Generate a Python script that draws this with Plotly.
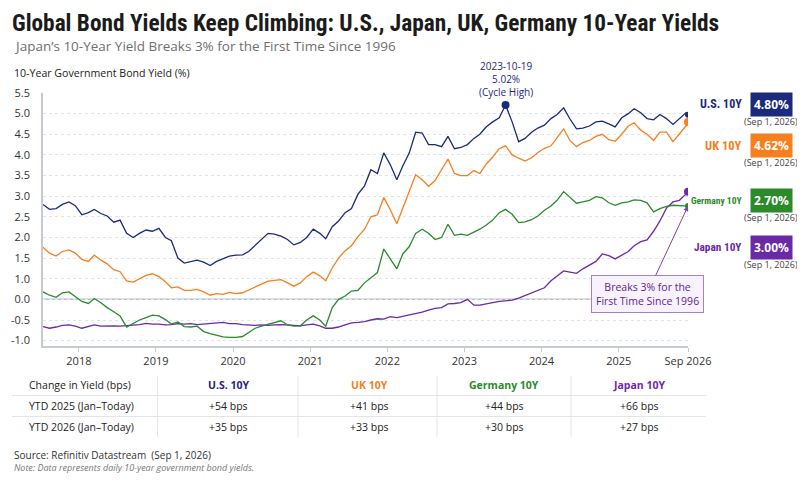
import pandas as pd
import plotly.graph_objects as go

# monthly readings (mid-month), Jul 2017 .. Nov 2025, plus the final observation
dates = list(pd.date_range("2017-07-01", "2025-11-01", freq="MS") + pd.Timedelta(days=14))
dates.append(pd.Timestamp("2025-11-25"))

us_10y = [
    2.80, 2.68, 2.70, 2.80, 2.86, 2.77,
    2.55, 2.60, 2.68, 2.58, 2.52, 2.37, 2.42, 2.10, 2.00, 2.10, 2.18, 2.15,
    2.22, 2.00, 1.92, 1.50, 1.38, 1.42, 1.45, 1.40, 1.32, 1.42, 1.48, 1.55,
    1.57, 1.58, 1.66, 1.80, 1.94, 2.10, 2.08, 2.03, 1.95, 1.82, 1.88, 2.00,
    2.20, 2.10, 1.97, 2.26, 2.40, 2.60, 2.70, 3.05, 3.25, 3.64, 3.55, 4.05,
    3.76, 3.40, 3.73, 4.05, 4.55, 4.53, 4.25, 4.25, 4.20, 4.45, 4.15, 4.18,
    4.25, 4.40, 4.50, 4.68, 4.80, 4.90, 5.21, 4.80, 4.32, 4.40, 4.55, 4.65,
    4.72, 4.88, 4.98, 5.14, 4.87, 4.63, 4.65, 4.70, 4.80, 4.82, 4.75, 4.68,
    4.90, 5.00, 5.12, 5.02, 4.88, 4.85, 4.98, 4.88, 4.74, 4.88, 5.02, 4.97,
]
uk_10y = [
    1.76, 1.62, 1.55, 1.66, 1.70, 1.62,
    1.47, 1.42, 1.57, 1.45, 1.36, 1.22, 1.17, 0.95, 0.92, 1.00, 1.08, 1.12,
    1.05, 0.93, 0.78, 0.80, 0.72, 0.72, 0.74, 0.68, 0.60, 0.64, 0.62, 0.67,
    0.64, 0.66, 0.73, 0.79, 0.88, 0.94, 0.96, 0.98, 0.90, 0.82, 0.90, 1.05,
    1.16, 1.07, 0.95, 1.26, 1.50, 1.68, 1.80, 2.02, 2.20, 2.50, 2.55, 2.97,
    2.67, 2.33, 2.71, 3.11, 3.52, 3.40, 3.24, 3.38, 3.65, 3.90, 3.55, 3.50,
    3.50, 3.62, 3.55, 3.78, 3.95, 4.15, 4.22, 4.00, 3.92, 3.85, 3.93, 4.06,
    4.16, 4.22, 4.42, 4.63, 4.35, 4.20, 4.30, 4.35, 4.45, 4.50, 4.37, 4.33,
    4.50, 4.70, 4.78, 4.60, 4.50, 4.35, 4.55, 4.55, 4.32, 4.50, 4.70, 4.80,
]
de_10y = [
    0.68, 0.60, 0.55, 0.66, 0.68, 0.57,
    0.45, 0.40, 0.52, 0.42, 0.30, 0.20, 0.10, -0.17, -0.08, 0.00, 0.06, 0.12,
    0.10, 0.01, -0.10, -0.05, -0.16, -0.17, -0.15, -0.28, -0.33, -0.37, -0.41, -0.42,
    -0.42, -0.40, -0.31, -0.20, -0.15, -0.10, -0.06, -0.02, -0.12, -0.15, -0.14, 0.00,
    0.10, 0.00, -0.15, 0.30, 0.50, 0.58, 0.70, 0.72, 0.90, 1.03, 1.15, 1.72,
    1.49, 1.24, 1.60, 1.78, 2.10, 2.20, 2.10, 1.95, 2.00, 2.32, 2.05, 2.08,
    2.05, 2.12, 2.20, 2.30, 2.42, 2.60, 2.68, 2.56, 2.36, 2.38, 2.43, 2.52,
    2.66, 2.76, 2.90, 3.11, 2.98, 2.83, 2.86, 2.90, 2.99, 2.96, 2.84, 2.78,
    2.84, 2.86, 2.91, 2.90, 2.84, 2.62, 2.70, 2.75, 2.78, 2.77, 2.76, 2.76,
]
jp_10y = [
    -0.16, -0.20, -0.17, -0.13, -0.12, -0.15,
    -0.20, -0.15, -0.12, -0.15, -0.14, -0.14, -0.15, -0.14, -0.13, -0.11, -0.08, -0.10,
    -0.10, -0.12, -0.11, -0.09, -0.10, -0.09, -0.11, -0.10, -0.09, -0.08, -0.06, -0.09,
    -0.09, -0.11, -0.12, -0.13, -0.12, -0.13, -0.12, -0.11, -0.12, -0.13, -0.14, -0.12,
    -0.10, -0.14, -0.20, -0.20, -0.17, -0.12, -0.07, -0.06, -0.04, 0.00, 0.03, 0.02,
    0.08, 0.06, 0.09, 0.13, 0.16, 0.19, 0.24, 0.28, 0.30, 0.39, 0.40, 0.42,
    0.50, 0.36, 0.36, 0.40, 0.42, 0.45, 0.47, 0.48, 0.53, 0.59, 0.64, 0.70,
    0.78, 0.95, 1.06, 1.19, 1.16, 1.13, 1.24, 1.33, 1.42, 1.60, 1.56, 1.48,
    1.58, 1.66, 1.80, 1.90, 1.94, 2.15, 2.40, 2.71, 2.86, 2.90, 3.05, 3.11,
]

series_names = ["U.S. 10Y", "UK 10Y", "Germany 10Y", "Japan 10Y"]
series_colors = ["#1b2a7c", "#f77f1d", "#2b8a2b", "#6a2aa6"]
latest_yield = [4.80, 4.62, 2.70, 3.00]
ytd_2025_bps = [54, 41, 44, 66]
ytd_2026_bps = [35, 33, 30, 27]

x_tick_vals = ["2018-01-01", "2019-01-01", "2020-01-01", "2021-01-01", "2022-01-01",
               "2023-01-01", "2024-01-01", "2025-01-01", dates[-1]]
x_tick_text = ["2018", "2019", "2020", "2021", "2022", "2023", "2024", "2025", "Sep 2026"]
y_tick_vals = [5.5, 5.0, 4.5, 4.0, 3.5, 3.0, 2.5, 2.0, 1.5, 1.0, 0.5, 0.0, -0.5]
y_tick_text = ["5.5", "5.0", "4.5", "4.0", "3.5", "3.0", "2.5", "2.0", "1.5", "1.0", "0.0", "-0.5", "-1.0"]

BODY = "Open Sans, Noto Sans, sans-serif"
NARROW = "Liberation Sans Narrow, Roboto Condensed, Arial Narrow, Open Sans, sans-serif"


# page coordinates (the page body adds an 8px offset) -> paper coordinates
def px(x):
    return (x - 43) / 645


def py(y):
    return (346 - y) / 253


all_series = [us_10y, uk_10y, de_10y, jp_10y]

fig = go.Figure()
for i in [3, 2, 1, 0]:
    fig.add_trace(go.Scatter(
        x=dates, y=all_series[i], mode="lines", name=series_names[i],
        line=dict(color=series_colors[i], width=1.3), showlegend=False
    ))
for i, size in zip([3, 2, 1, 0], [8, 6, 8, 6]):
    fig.add_trace(go.Scatter(
        x=[dates[-1]], y=[all_series[i][-1]], mode="markers",
        marker=dict(color=series_colors[i], size=size), showlegend=False
    ))

# cycle high of the U.S. series
peak_idx = us_10y.index(max(us_10y))
fig.add_trace(go.Scatter(
    x=[dates[peak_idx]], y=[us_10y[peak_idx]], mode="markers",
    marker=dict(color=series_colors[0], size=8), showlegend=False
))

# zero line sits on the "0.0" label
zero_pos = y_tick_vals[y_tick_text.index("0.0")]
fig.add_shape(type="line", xref="paper", x0=0, x1=1, yref="y", y0=zero_pos, y1=zero_pos,
              line=dict(color="#b9bfcb", width=1.5), layer="below")

ann = []
ann.append(dict(x=px(11), y=py(8), xref="paper", yref="paper", xanchor="left", yanchor="top",
                text="<b>Global Bond Yields Keep Climbing: U.S., Japan, UK, Germany 10-Year Yields</b>",
                font=dict(family=NARROW, size=23.3, color="#1b1b1b"), borderpad=0, showarrow=False))
ann.append(dict(x=px(12), y=py(46), xref="paper", yref="paper", xanchor="left", yanchor="middle",
                text="Japan’s 10-Year Yield Breaks 3% for the First Time Since 1996",
                font=dict(family=BODY, size=13.5, color="#6f6f6f"), showarrow=False))
ann.append(dict(x=px(12), y=py(73), xref="paper", yref="paper", xanchor="left", yanchor="middle",
                text="10-Year Government Bond Yield (%)",
                font=dict(family=BODY, size=10.6, color="#222222"), showarrow=False))

ann.append(dict(x=dates[peak_idx], y=us_10y[peak_idx], xref="x", yref="y", yanchor="bottom",
                yshift=4, text="2023-10-19<br>5.02%<br>(Cycle High)", align="center",
                font=dict(family=BODY, size=10, color=series_colors[0]), showarrow=False))

# right-hand labels
label_y = [104, 145, 200, 247]
label_sizes = [12, 12.5, 9.5, 11.3]
for i in range(4):
    ann.append(dict(x=px(744), y=py(label_y[i]), xref="paper", yref="paper", xanchor="right",
                    yanchor="middle", text="<b>" + series_names[i] + "</b>",
                    font=dict(family=NARROW, size=label_sizes[i], color=series_colors[i]),
                    showarrow=False))
    ann.append(dict(x=px(771), y=py(label_y[i]), xref="paper", yref="paper", xanchor="center",
                    yanchor="middle", text="<b>%.2f%%</b>" % latest_yield[i],
                    font=dict(family=BODY, size=12, color="white"), bgcolor=series_colors[i],
                    borderpad=3, showarrow=False))
    ann.append(dict(x=px(771), y=py(label_y[i] + 17), xref="paper", yref="paper", xanchor="center",
                    yanchor="middle", text="(Sep 1, 2026)",
                    font=dict(family=BODY, size=9, color="#444444"), showarrow=False))

ann.append(dict(x=dates[-1], y=de_10y[-1], xref="x", yref="y", ax=-41, ay=88,
                text="Breaks 3% for the<br>First Time Since 1996",
                font=dict(family=BODY, size=10.5, color="#5e2590"), bgcolor="#f8f2fd",
                bordercolor="#a77fd0", borderwidth=1, borderpad=4,
                showarrow=True, arrowhead=2, arrowsize=1, arrowwidth=1, arrowcolor="#7a45b5"))

# change-in-yield table
col_x = [228, 369, 504, 639]
row_y = [385, 406, 427]
row_labels = ["Change in Yield (bps)", "YTD 2025 (Jan–Today)", "YTD 2026 (Jan–Today)"]
for r, label in enumerate(row_labels):
    ann.append(dict(x=px(27), y=py(row_y[r]), xref="paper", yref="paper", xanchor="left",
                    yanchor="middle", text=label, font=dict(family=BODY, size=10.5, color="#222222"),
                    showarrow=False))
for c in range(4):
    ann.append(dict(x=px(col_x[c]), y=py(row_y[0]), xref="paper", yref="paper", xanchor="center",
                    yanchor="middle", text="<b>" + series_names[c] + "</b>",
                    font=dict(family=BODY, size=10.5, color=series_colors[c]), showarrow=False))
    ann.append(dict(x=px(col_x[c]), y=py(row_y[1]), xref="paper", yref="paper", xanchor="center",
                    yanchor="middle", text="+%d bps" % ytd_2025_bps[c],
                    font=dict(family=BODY, size=10.5, color="#222222"), showarrow=False))
    ann.append(dict(x=px(col_x[c]), y=py(row_y[2]), xref="paper", yref="paper", xanchor="center",
                    yanchor="middle", text="+%d bps" % ytd_2026_bps[c],
                    font=dict(family=BODY, size=10.5, color="#222222"), showarrow=False))
for ly in [395.5, 416.5]:
    fig.add_shape(type="line", xref="paper", yref="paper", x0=px(12), x1=px(706), y0=py(ly), y1=py(ly),
                  line=dict(color="#e1e4ea", width=1))
for lx in [157.5, 298, 437, 571]:
    fig.add_shape(type="line", xref="paper", yref="paper", x0=px(lx), x1=px(lx), y0=py(376), y1=py(437),
                  line=dict(color="#e1e4ea", width=1))

ann.append(dict(x=px(12), y=py(455), xref="paper", yref="paper", xanchor="left", yanchor="middle",
                text="Source: Refinitiv Datastream  (Sep 1, 2026)",
                font=dict(family=BODY, size=10, color="#333333"), showarrow=False))
ann.append(dict(x=px(12), y=py(468), xref="paper", yref="paper", xanchor="left", yanchor="middle",
                text="<i>Note: Data represents daily 10-year government bond yields.</i>",
                font=dict(family=BODY, size=9, color="#777777"), showarrow=False))

fig.update_layout(
    width=805, height=488,
    margin=dict(l=35, r=125, t=85, b=150),
    plot_bgcolor="white", paper_bgcolor="white",
    annotations=ann,
    xaxis=dict(type="date", range=[dates[0], dates[-1]], tickvals=x_tick_vals, ticktext=x_tick_text,
               ticks="outside", ticklen=4, tickcolor="#c5cad6", showline=True, linecolor="#c5cad6",
               linewidth=1.5, showgrid=False, zeroline=False, automargin=False,
               tickfont=dict(family=BODY, size=11, color="#333333")),
    yaxis=dict(range=[-0.63, 5.5], tickvals=y_tick_vals, ticktext=y_tick_text,
               showgrid=True, gridcolor="#dfe3ea", griddash="dot", showline=True,
               linecolor="#c5cad6", linewidth=1.5, zeroline=False, ticklabelstandoff=9,
               automargin=False, tickfont=dict(family=BODY, size=11, color="#333333")),
)

fig.write_html("out.html")
